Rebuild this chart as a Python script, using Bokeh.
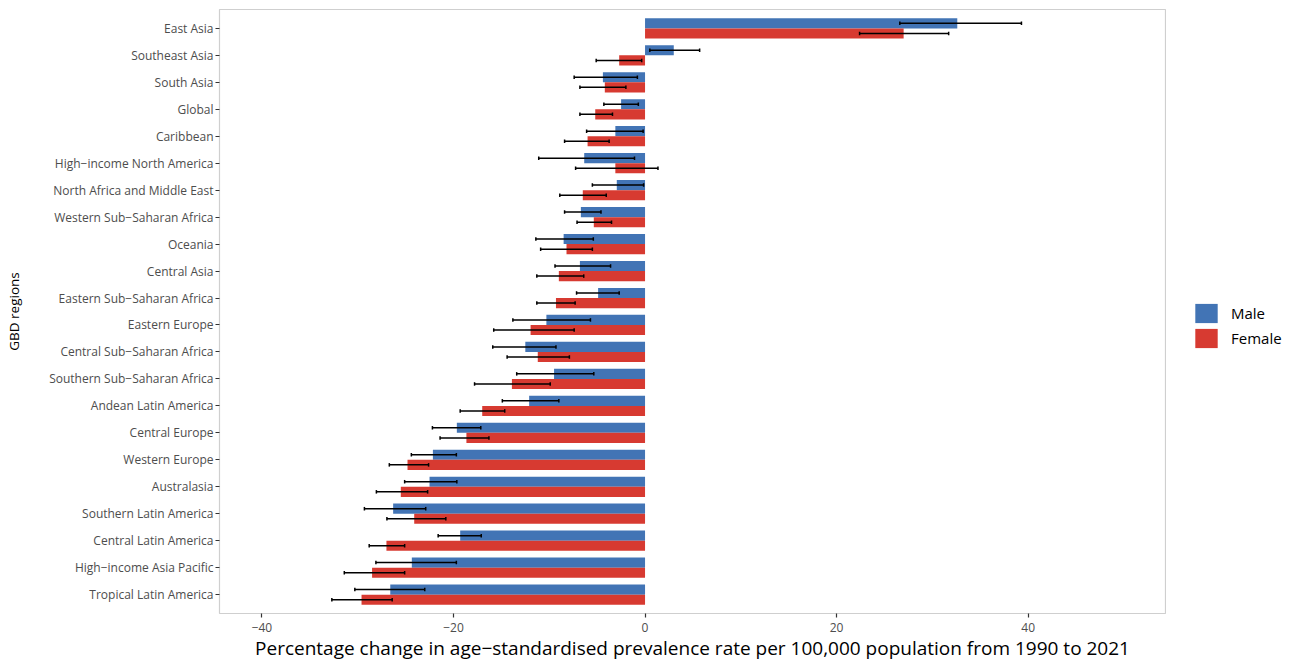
from bokeh.plotting import figure
from bokeh.layouts import row
from bokeh.models import ColumnDataSource, Range1d, FactorRange, FixedTicker, Legend, LegendItem
from bokeh.transform import dodge
from bokeh.embed import file_html
from bokeh.resources import INLINE

regions = ["East Asia", "Southeast Asia", "South Asia", "Global", "Caribbean",
           "High−income North America", "North Africa and Middle East",
           "Western Sub−Saharan Africa", "Oceania", "Central Asia",
           "Eastern Sub−Saharan Africa", "Eastern Europe", "Central Sub−Saharan Africa",
           "Southern Sub−Saharan Africa", "Andean Latin America", "Central Europe",
           "Western Europe", "Australasia", "Southern Latin America",
           "Central Latin America", "High−income Asia Pacific", "Tropical Latin America"]

male = [32.6, 3.0, -4.4, -2.5, -3.1, -6.35, -2.95, -6.7, -8.5, -6.8, -4.9, -10.3,
        -12.5, -9.5, -12.1, -19.65, -22.15, -22.5, -26.3, -19.3, -24.35, -26.6]
male_lo = [26.6, 0.5, -7.4, -4.3, -6.1, -11.1, -5.5, -8.4, -11.4, -9.4, -7.15, -13.8,
           -15.9, -13.4, -14.9, -22.2, -24.4, -25.1, -29.3, -21.6, -28.1, -30.3]
male_hi = [39.3, 5.7, -0.8, -0.7, -0.2, -1.1, -0.15, -4.6, -5.4, -3.6, -2.7, -5.7,
           -9.3, -5.35, -9.0, -17.15, -19.7, -19.65, -22.9, -17.1, -19.7, -23.0]
female = [27.0, -2.7, -4.2, -5.2, -6.0, -3.1, -6.5, -5.35, -8.2, -9.0, -9.3, -11.95,
          -11.2, -13.9, -17.0, -18.65, -24.8, -25.5, -24.1, -27.0, -28.5, -29.6]
female_lo = [22.4, -5.1, -6.8, -6.8, -8.4, -7.25, -8.9, -7.1, -10.9, -11.3, -11.3, -15.8,
             -14.4, -17.8, -19.3, -21.4, -26.7, -28.05, -26.95, -28.8, -31.4, -32.7]
female_hi = [31.7, -0.35, -2.0, -3.4, -3.75, 1.35, -4.05, -3.5, -5.5, -6.4, -7.3, -7.4,
             -7.9, -9.9, -14.65, -16.3, -22.6, -22.7, -20.8, -25.1, -25.1, -26.4]

x_ticks = [-40, -20, 0, 20, 40]
series_labels = ["Male", "Female"]

MALE_C = "#4274B5"
FEMALE_C = "#D73A31"
FONT = "Open Sans"
H_TOTAL = 663

src = ColumnDataSource(dict(region=regions, male=male, male_lo=male_lo, male_hi=male_hi,
                            female=female, female_lo=female_lo, female_hi=female_hi))

yr = FactorRange(factors=list(reversed(regions)), range_padding=0.2,
                 range_padding_units="absolute")

p = figure(width=1166, height=H_TOTAL, y_range=yr, x_range=Range1d(-44.43, 54.34),
           output_backend="svg", toolbar_location=None,
           min_border_left=219, min_border_right=1, min_border_top=9, min_border_bottom=47)

OFF = 0.1875
H = 0.375

p.hbar(y=dodge("region", OFF, range=yr), right="male", left=0, height=H,
       source=src, fill_color=MALE_C, line_color=None)
p.hbar(y=dodge("region", -OFF, range=yr), right="female", left=0, height=H,
       source=src, fill_color=FEMALE_C, line_color=None)

CAP = 0.065
for off, lo, hi in [(OFF, "male_lo", "male_hi"), (-OFF, "female_lo", "female_hi")]:
    yc = dodge("region", off, range=yr)
    p.segment(x0=lo, x1=hi, y0=yc, y1=yc, source=src, line_color="black", line_width=1.5)
    for end in (lo, hi):
        p.segment(x0=end, x1=end, y0=dodge("region", off - CAP, range=yr),
                  y1=dodge("region", off + CAP, range=yr), source=src,
                  line_color="black", line_width=1.5)

p.grid.visible = False
p.background_fill_color = "white"
p.border_fill_color = "white"
p.outline_line_color = "#CFCFCF"
p.outline_line_width = 1.2

for ax in (p.xaxis[0], p.yaxis[0]):
    ax.axis_line_color = None
    ax.major_tick_line_color = "#333333"
    ax.major_tick_line_width = 1.2
    ax.major_tick_out = 4
    ax.major_tick_in = 0
    ax.minor_tick_line_color = None
    ax.major_label_text_font = FONT
    ax.major_label_text_font_size = "12px"
    ax.major_label_text_color = "#4D4D4D"
    ax.axis_label_text_font = FONT
    ax.axis_label_text_font_style = "normal"
    ax.axis_label_text_color = "black"

p.xaxis.ticker = FixedTicker(ticks=x_ticks)
p.xaxis.major_label_overrides = {t: (str(t).replace("-", "−")) for t in x_ticks}
p.xaxis.axis_label = "Percentage change in age−standardised prevalence rate per 100,000 population from 1990 to 2021"
p.xaxis.axis_label_text_font_size = "19px"
p.xaxis.major_label_standoff = 5
p.xaxis.axis_label_standoff = 0

p.yaxis.axis_label = "GBD regions"
p.yaxis.axis_label_text_font_size = "13.5px"
p.yaxis.major_label_standoff = 2
p.yaxis.axis_label_standoff = 23

# legend panel (separate figure to the right of the plot); its bars share the data
# but have zero thickness and lie outside its x range, so only the legend keys show.
lg_yr = FactorRange(factors=list(reversed(regions)))
lg = figure(width=124, height=H_TOTAL, output_backend="svg", toolbar_location=None,
            min_border=0, x_range=Range1d(1000, 1001), y_range=lg_yr)
lg.axis.visible = False
lg.grid.visible = False
lg.outline_line_color = None
lg.background_fill_color = "white"
lg.border_fill_color = "white"
lm = lg.hbar(y="region", right="male", left=0, height=0, source=src,
             fill_color=MALE_C, line_color=None)
lf = lg.hbar(y="region", right="female", left=0, height=0, source=src,
             fill_color=FEMALE_C, line_color=None)

legend = Legend(items=[LegendItem(label=series_labels[0], renderers=[lm]),
                       LegendItem(label=series_labels[1], renderers=[lf])],
                location=(26, H_TOTAL - 351 - 49), orientation="vertical",
                padding=0, margin=0, spacing=1, glyph_width=28, glyph_height=24,
                label_standoff=11, label_text_font=FONT, label_text_font_size="15px",
                label_text_color="black", border_line_color=None, background_fill_alpha=0)
lg.add_layout(legend, "center")

layout = row(p, lg, spacing=0)
open("out.html", "w").write(file_html(layout, INLINE))
